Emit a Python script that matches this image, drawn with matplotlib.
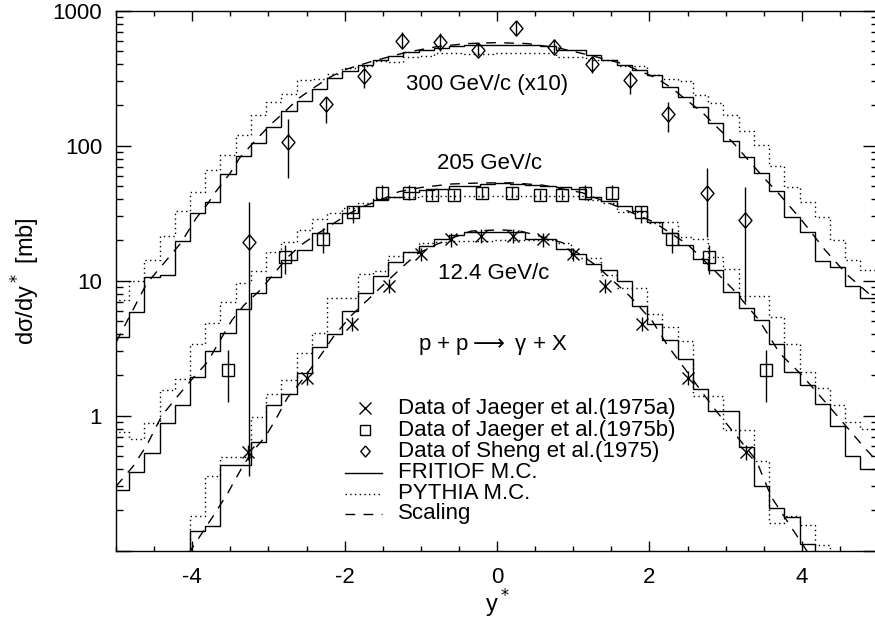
import numpy as np
import matplotlib
matplotlib.use("Agg")
import matplotlib.pyplot as plt
from matplotlib.ticker import FixedLocator, FixedFormatter, NullFormatter

plt.rcParams['font.family'] = ['Liberation Sans', 'DejaVu Sans']
plt.rcParams['axes.unicode_minus'] = False
plt.rcParams['mathtext.fontset'] = 'dejavusans'

# rapidity bins of the Monte Carlo histograms (width 0.2)
edges = np.linspace(-5.0, 5.0, 51) - 0.03

# FRITIOF M.C. (solid histograms)
fritiof_300 = [3.83, 5.87, 10.7, 11.0, 19.6, 31.9, 38.4, 61.7, 84.4, 104,
               138, 181, 216, 262, 316, 355, 395, 428, 464, 491,
               507, 528, 550, 555, 560, 560, 560, 555, 550, 514,
               514, 471, 433, 397, 365, 335, 272, 231, 195, 147,
               109, 83, 62.5, 46.4, 29.7, 23.0, 14.0, 12.7, 9.1, 7.5]
fritiof_205 = [0.28, 0.381, 0.527, 0.881, 1.21, 1.95, 3.01, 4.10, 6.22, 8.04,
               10.7, 14.2, 16.8, 22.4, 26.8, 31.6, 35.7, 39.6, 42.0, 45.0,
               47.0, 48.0, 50.3, 50.3, 52.0, 52.6, 52.0, 51.0, 50.0, 49.0,
               48.0, 42.0, 39.0, 36.0, 33.0, 27.0, 22.6, 18.5, 14.5, 12.0,
               8.2, 6.3, 5.07, 3.4, 2.12, 1.68, 1.22, 0.845, 0.506, 0.40]
fritiof_124 = [0.05, 0.05, 0.05, 0.05, 0.05, 0.141, 0.153, 0.432, 0.432, 0.637,
               1.19, 1.44, 2.07, 3.23, 4.06, 5.97, 8.04, 10.8, 13.8, 16.4,
               18.0, 20.2, 21.8, 23.0, 23.0, 23.0, 23.0, 20.2, 20.2, 17.3,
               15.7, 13.4, 12.0, 9.97, 6.47, 4.75, 3.62, 2.65, 1.58, 1.09,
               1.09, 0.591, 0.303, 0.206, 0.179, 0.113, 0.098, 0.05, 0.05, 0.05]

# PYTHIA M.C. (dotted histograms)
pythia_300 = [7.2, 10.0, 14.2, 21.6, 33.0, 45.0, 66.0, 85.4, 120, 169,
              212, 241, 308, 313, 340, 376, 386, 421, 416, 453,
              460, 485, 485, 480, 480, 485, 485, 485, 485, 455,
              455, 433, 433, 386, 386, 335, 313, 299, 238, 207,
              169, 129, 101, 71, 49.5, 38.4, 29.7, 20.0, 14.2, 12.0]
pythia_205 = [0.755, 0.674, 0.88, 1.54, 1.86, 3.42, 4.86, 6.96, 9.53, 11.8,
              16.4, 19.4, 23.7, 28.5, 31.6, 34.3, 37.4, 41.0, 42.0, 42.0,
              42.5, 42.5, 42.5, 42.5, 42.5, 42.4, 42.4, 42.4, 42.4, 42.4,
              42.4, 39.6, 37.4, 32.4, 32.4, 26.8, 27.3, 20.9, 20.5, 14.9,
              12.3, 7.67, 7.67, 5.38, 3.40, 2.11, 1.6, 1.2, 0.9, 0.8]
pythia_124 = [0.05, 0.05, 0.05, 0.05, 0.05, 0.182, 0.36, 0.498, 0.498, 0.975,
              1.45, 1.85, 2.90, 4.10, 7.38, 7.38, 11.2, 11.8, 15.2, 16.4,
              18.9, 19.5, 19.6, 19.6, 19.6, 19.9, 19.9, 19.9, 19.9, 18.9,
              14.7, 14.7, 11.0, 8.9, 8.9, 5.71, 4.5, 3.57, 1.41, 1.41,
              0.78, 0.78, 0.46, 0.161, 0.18, 0.155, 0.11, 0.05, 0.05, 0.05]

# Scaling predictions (dashed curves)
scal_300_x = [-5.0, -4.9, -4.6, -4.15, -3.95, -3.8, -3.7, -3.5, -3.38, -3.18,
              -2.98, -2.78, -2.6, -2.4, -2.2, -2.0, -1.65, -1.2, -0.8, -0.4,
              0.0, 0.4, 0.8, 1.2, 1.65, 2.1, 2.3, 2.5, 2.7, 2.9,
              3.1, 3.3, 3.5, 3.7, 4.0, 4.3, 4.6, 5.0]
scal_300_y = [3.5, 4.5, 9.5, 19, 29, 37, 45, 63, 81, 108,
              142, 180, 225, 270, 320, 365, 420, 490, 540, 570,
              580, 570, 530, 470, 405, 315, 265, 215, 175, 135,
              105, 78, 58, 44, 28, 17, 11, 7.0]
scal_205_x = [-5.0, -4.78, -4.6, -4.4, -4.19, -3.99, -3.8, -3.65, -3.48, -3.32,
              -3.1, -2.75, -2.56, -2.37, -2.18, -1.96, -1.78, -1.51, -1.29, -1.0,
              -0.6, -0.2, 0.2, 0.6, 1.12, 1.53, 2.05, 2.5, 2.88, 3.1,
              3.44, 3.71, 4.0, 4.4, 4.8, 5.0]
scal_205_y = [0.30, 0.42, 0.60, 1.0, 1.4, 1.9, 2.5, 3.5, 5.1, 6.6,
              8.6, 14.9, 18.6, 22.0, 25.8, 31.0, 35.0, 40.0, 45.6, 49.0,
              52.0, 53.0, 53.0, 51.0, 44.8, 36.4, 27.3, 18.6, 11.5, 8.6,
              5.1, 2.9, 2.0, 1.1, 0.6, 0.45]
scal_124_x = [-4.05, -3.70, -3.53, -3.33, -3.19, -3.04, -2.90, -2.75, -2.58, -2.32,
              -2.15, -1.91, -1.51, -1.24, -1.04, -0.79, -0.55, -0.34, 0.05, 0.30,
              0.55, 0.86, 1.30, 1.74, 2.04, 2.24, 2.85, 3.40, 3.60, 4.09]
scal_124_y = [0.095, 0.19, 0.27, 0.43, 0.56, 0.70, 0.95, 1.36, 1.77, 2.77,
              3.83, 5.54, 9.1, 12.7, 15.9, 18.6, 21.1, 23.3, 23.8, 23.3,
              21.5, 19.1, 13.0, 7.7, 5.0, 3.3, 1.13, 0.47, 0.25, 0.095]

# Data of Jaeger et al. (1975a), 12.4 GeV/c
jaeger_a_x = [-3.27, -2.50, -1.90, -1.42, -1.00, -0.60, -0.21,
              0.21, 0.60, 1.00, 1.42, 1.90, 2.50, 3.27]
jaeger_a_y = [0.537, 1.91, 4.81, 9.18, 15.7, 20.2, 21.5,
              21.5, 20.2, 15.7, 9.18, 4.81, 1.91, 0.537]
jaeger_a_lo = [0.47, 1.68, 4.25, 8.1, 13.9, 17.9, 19.0,
               19.0, 17.9, 13.9, 8.1, 4.25, 1.68, 0.47]
jaeger_a_hi = [0.61, 2.15, 5.4, 10.3, 17.6, 22.6, 24.1,
               24.1, 22.6, 17.6, 10.3, 5.4, 2.15, 0.61]

# Data of Jaeger et al. (1975b), 205 GeV/c
jaeger_b_x = [-3.53, -2.78, -2.29, -1.89, -1.51, -1.16, -0.85, -0.56, -0.20,
              0.20, 0.56, 0.85, 1.16, 1.51, 1.89, 2.29, 2.78, 3.53]
jaeger_b_y = [2.17, 15.0, 20.2, 32.1, 44.8, 44.8, 43.1, 43.1, 44.8,
              44.8, 43.1, 43.1, 44.8, 44.8, 32.1, 20.2, 15.0, 2.17]
jaeger_b_lo = [1.26, 11.3, 15.9, 26.6, 39.6, 39.6, 39.5, 39.5, 41.0,
               41.0, 39.5, 39.5, 39.6, 39.6, 26.6, 15.9, 11.3, 1.26]
jaeger_b_hi = [3.05, 18.3, 24.4, 35.7, 51.2, 51.2, 47.0, 47.0, 49.0,
               49.0, 47.0, 47.0, 51.2, 51.2, 35.7, 24.4, 18.3, 3.05]

# Data of Sheng et al. (1975), 300 GeV/c (x10)
sheng_x = [-3.25, -2.75, -2.25, -1.75, -1.25, -0.75, -0.25,
           0.25, 0.75, 1.25, 1.75, 2.25, 2.75, 3.25]
sheng_y = [19.4, 107, 204, 329, 592, 586, 514,
           745, 534, 404, 304, 171, 44.4, 28.1]
sheng_lo = [0.36, 57.7, 147, 267, 528, 499, 458,
            664, 486, 348, 242, 127, 21.1, 6.96]
sheng_hi = [38.3, 158, 231, 397, 695, 682, 575,
            833, 616, 464, 355, 212, 68.0, 49.7]

fig = plt.figure(figsize=(8.75, 6.24), dpi=100)
ax = fig.add_axes([0.1327, 0.1175, 0.8707, 0.8654])
ax.set_yscale('log')
ax.set_xlim(-5, 5)
ax.set_ylim(0.1, 1000)

lw = 1.0
dotted = (0, (1.0, 2.4))
dashed = (0, (7, 6))
# open diamond, a little taller than wide
diamond = [(0, 1), (0.85, 0), (0, -1), (-0.85, 0), (0, 1)]

for vals in (fritiof_300, fritiof_205, fritiof_124):
    ax.stairs(vals, edges, baseline=None, color='black', lw=lw)
for vals in (pythia_300, pythia_205, pythia_124):
    ax.stairs(vals, edges, baseline=None, color='black', lw=lw, linestyle=dotted)
for xs, ys in ((scal_300_x, scal_300_y), (scal_205_x, scal_205_y),
               (scal_124_x, scal_124_y)):
    ax.plot(xs, ys, color='black', lw=lw, linestyle=dashed)


def with_errors(x, y, lo, hi, marker, ms):
    y = np.asarray(y, float)
    err = [y - np.asarray(lo, float), np.asarray(hi, float) - y]
    ax.errorbar(x, y, yerr=err, fmt='none', ecolor='black',
                elinewidth=1.0, capsize=0)
    ax.plot(x, y, linestyle='none', marker=marker, ms=ms, mfc='none',
            mec='black', mew=1.0)


with_errors(jaeger_a_x, jaeger_a_y, jaeger_a_lo, jaeger_a_hi, 'x', 8.5)
with_errors(jaeger_b_x, jaeger_b_y, jaeger_b_lo, jaeger_b_hi, 's', 8.6)
with_errors(sheng_x, sheng_y, sheng_lo, sheng_hi, diamond, 11)

txt = dict(fontsize=16, ha='center', va='center')
ax.text(-0.135, 282, '300 GeV/c (x10)', **txt)
ax.text(-0.10, 74, '205 GeV/c', **txt)
ax.text(-0.05, 11.3, '12.4 GeV/c', **txt)
ax.text(-0.06, 3.32, r'p + p$\longrightarrow$ γ + X', **txt)

# legend
rows = [0.2635, 0.2226, 0.1837, 0.1447, 0.1058, 0.0686]
labels = ['Data of Jaeger et al.(1975a)', 'Data of Jaeger et al.(1975b)',
          'Data of Sheng et al.(1975)', 'FRITIOF M.C.', 'PYTHIA M.C.', 'Scaling']
tr = ax.transAxes
ax.plot([0.3267], [rows[0]], linestyle='none', marker='x', ms=8.5,
        mec='black', mew=1.0, transform=tr)
ax.plot([0.3267], [rows[1]], linestyle='none', marker='s', ms=7,
        mfc='none', mec='black', mew=1.0, transform=tr)
ax.plot([0.3267], [rows[2]], linestyle='none', marker=diamond, ms=8,
        mfc='none', mec='black', mew=1.0, transform=tr)
ax.plot([0.3004, 0.349], [rows[3]] * 2, color='black', lw=lw, transform=tr)
ax.plot([0.3004, 0.349], [rows[4]] * 2, color='black', lw=lw, linestyle=dotted, transform=tr)
ax.plot([0.3004, 0.349], [rows[5]] * 2, color='black', lw=lw, linestyle=dashed, transform=tr)
for r, lab in zip(rows, labels):
    ax.text(0.370, r, lab, fontsize=16, ha='left', va='center', transform=tr)

# axes, ticks and labels
ax.xaxis.set_major_locator(FixedLocator([-4, -2, 0, 2, 4]))
ax.xaxis.set_minor_locator(FixedLocator(np.arange(-5, 5.01, 0.5)))
ax.xaxis.set_major_formatter(FixedFormatter(['-4', '-2', '0', '2', '4']))
ax.yaxis.set_major_locator(FixedLocator([0.1, 1, 10, 100, 1000]))
ax.yaxis.set_major_formatter(FixedFormatter(['', '1', '10', '100', '1000']))
minors = [m * 10.0 ** e for e in range(-1, 3) for m in range(2, 10)]
ax.yaxis.set_minor_locator(FixedLocator(minors))
ax.yaxis.set_minor_formatter(NullFormatter())
ax.tick_params(which='both', direction='in', top=True, right=True,
               width=1.0, labelsize=16, color='black')
ax.tick_params(axis='x', which='major', length=7.5, pad=12)
ax.tick_params(axis='x', which='minor', length=3.6)
ax.tick_params(axis='y', which='major', length=11, pad=10)
ax.tick_params(axis='y', which='minor', length=5)
for s in ax.spines.values():
    s.set_linewidth(1.0)

ax.set_xlabel('y$^*$', fontsize=17)
ax.xaxis.set_label_coords(0.5, -0.069)
ax.set_ylabel('dσ/dy$^*$ [mb]', fontsize=17)
ax.yaxis.set_label_coords(-0.097, 0.5)

fig.savefig('out.png', dpi=100)
